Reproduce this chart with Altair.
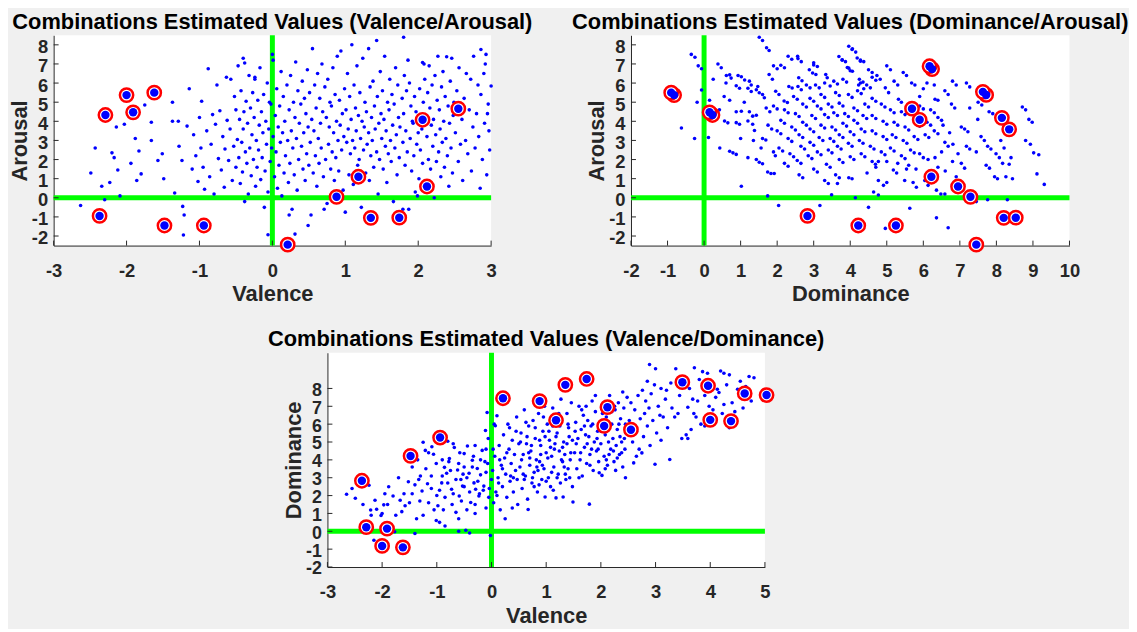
import altair as alt
import pandas as pd

# ---------------- base emotions (valence, arousal, dominance) ----------------
base_valence = [-2.37, -2.29, -2.00, -1.91, -1.62, -1.48, -0.94, 0.21, 0.88, 1.18, 1.35,
                1.74, 2.06, 2.12, 2.55, 3.49, 3.96, 4.00, 4.38, 4.63, 5.03]
base_arousal = [-0.95, 4.33, 5.37, 4.47, 5.50, -1.45, -1.45, -2.45, 0.05, 1.10, -1.05,
                -1.04, 4.08, 0.59, 4.66, 3.58, 4.18, 6.73, 6.88, 5.38, 5.54]
base_dominance = [2.83, 0.23, -0.82, 0.15, -0.90, 4.22, 5.25, 7.45, 7.29, 6.22, 8.20,
                  8.53, 5.90, 6.95, 5.69, 8.35, 8.15, 6.24, 6.17, 7.72, 7.63]

# ---------------- combination dots: (valence, arousal) ----------------
va_points = [
    (-2.63,-0.4),(-2.49,1.3),(-2.43,2.6),(-2.34,0.6),(-2.23,0.8),(-2.2,2.35),(-2.17,2.1),(-2.14,3.7),
    (-2.12,1.45),(-2.09,0.1),(-2.03,3.85),(-1.94,1.8),(-1.88,3.1),(-1.86,0.9),(-1.83,2.45),(-1.8,1.25),
    (-1.75,4.85),(-1.66,3.95),(-1.66,3.0),(-1.57,1.95),(-1.51,2.3),(-1.49,1.0),(-2.3,-0.1),
    (-1.37,5.0),(-1.37,4.0),(-1.34,0.25),(-1.29,4.0),(-1.28,2.7),(-1.24,1.95),(-1.23,-0.45),(-1.22,-1.95),
    (-1.21,-0.9),(-1.17,3.75),(-1.14,5.7),(-1.1,1.5),(-1.08,3.3),(-1.05,2.2),(-1.02,0.85),(-1.0,4.2),
    (-0.98,2.6),(-0.97,5.05),(-0.95,1.6),(-0.93,0.45),(-0.9,3.5),(-0.88,6.75),(-0.86,1.1),(-0.84,2.8),
    (-0.82,4.35),(-0.8,0.2),(-0.78,3.85),(-0.76,5.9),(-0.74,2.05),(-0.72,4.55),(-0.7,1.45),(-0.68,3.2),
    (-0.66,0.55),(-0.65,2.55),(-0.63,6.3),(-0.62,4.05),(-0.6,1.95),(-0.58,3.6),(-0.57,6.2),(-0.55,0.9),
    (-0.53,2.7),(-0.52,5.3),(-0.5,4.6),(-0.5,1.6),
    (-0.48,3.05),(-0.47,6.9),(-0.46,2.1),(-0.45,4.1),(-0.44,0.75),(-0.43,5.6),(-0.42,2.9),(-0.41,1.35),
    (-0.4,7.3),(-0.4,3.6),(-0.39,4.5),(-0.38,-0.2),(-0.37,2.4),(-0.36,5.05),(-0.35,1.8),(-0.34,3.9),
    (-0.33,0.2),(-0.32,6.4),(-0.31,2.6),(-0.3,4.7),(-0.29,1.15),(-0.28,3.3),(-0.27,5.5),(-0.26,2.0),
    (-0.25,4.2),(-0.24,6.3),(-0.23,0.6),(-0.22,3.0),(-0.21,1.6),(-0.2,5.1),(-0.19,2.5),(-0.18,3.8),
    (-0.17,6.8),(-0.16,0.95),(-0.15,4.5),(-0.14,2.1),(-0.13,3.4),(-0.12,5.4),(-0.11,-0.5),(-0.1,1.4),
    (-0.09,4.0),(-0.08,2.8),(-0.07,6.0),(-0.06,0.3),(-0.05,3.6),(-0.04,5.0),(-0.03,1.9),(-0.02,4.9),
    (-0.01,2.6),(0.0,7.5),(0.01,3.2),(-0.06,-1.93),(0.03,1.1),(0.04,4.3),(0.05,2.4),(0.06,5.7),
    (0.07,0.5),(0.08,3.7),(0.09,1.7),(0.1,4.8),(0.11,2.9),(0.12,6.6),(0.13,0.1),(0.14,3.4),
    (0.15,5.3),(0.16,1.3),(0.17,4.0),(0.18,2.2),(0.23,-0.9),(0.2,5.9),(0.21,3.0),(0.22,0.8),
    (0.23,4.6),(0.24,1.8),(0.25,6.4),(0.26,3.5),(0.27,-0.6),(0.28,2.6),(0.29,5.0),(0.3,1.2),
    (0.31,4.2),(0.32,7.1),(0.33,3.1),(0.34,0.4),(0.35,5.6),(0.36,2.0),(0.37,3.9),(0.31,-1.9),
    (0.39,4.9),(0.4,2.7),(0.41,6.1),(0.42,1.5),(0.43,3.4),(0.44,5.2),(0.45,0.9),(0.46,4.4),
    (0.47,2.3),(0.48,6.7),(0.49,3.7),(0.5,1.7),(0.49,-1.45),(0.01,7.2),(-0.38,7.05),(-0.24,6.2),
    (0.51,5.5),(0.52,2.9),(0.53,-0.9),(0.54,4.1),(0.55,7.8),(0.56,1.3),(0.57,3.5),(0.58,5.9),
    (0.59,2.2),(0.6,4.7),(0.61,0.6),(0.62,6.5),(0.63,3.1),(0.64,1.8),(0.65,5.2),(0.66,3.9),
    (0.67,2.6),(0.68,7.0),(0.69,4.5),(0.7,1.1),(0.71,-0.6),(0.72,5.8),(0.73,2.0),(0.74,4.2),
    (0.75,-0.3),(0.76,6.2),(0.77,2.8),(0.78,3.7),(0.79,5.0),(0.8,1.5),(0.81,4.8),(0.82,2.4),
    (0.83,6.8),(0.84,3.4),(0.85,0.9),(0.86,5.4),(0.87,2.1),(0.88,4.0),(0.89,7.4),(0.9,3.0),
    (0.91,1.4),(0.92,5.1),(0.93,3.8),(0.94,7.68),(0.95,2.5),(0.96,4.4),(0.97,0.4),(0.98,3.2),
    (0.99,5.7),(1.0,-0.75),(1.01,4.6),(1.02,2.9),(1.03,6.5),(1.04,3.6),(1.05,1.2),(1.06,5.3),
    (1.07,2.3),(1.08,4.1),(1.09,8.0),(1.1,3.0),(1.11,0.7),(1.12,5.9),(1.13,2.6),(1.14,4.7),
    (1.15,3.5),(1.16,6.9),(1.17,1.7),(1.18,4.3),(1.19,2.0),(1.2,5.5),(1.21,3.1),(1.22,-0.5),
    (1.23,4.0),(1.24,7.3),(1.25,2.5),(1.26,3.7),(1.27,5.0),(1.28,1.3),(1.29,4.5),(1.3,2.8),
    (1.32,7.8),(1.32,3.4),(1.33,0.9),(1.34,5.8),(1.35,2.2),(1.36,4.2),(1.37,3.0),(1.38,6.1),
    (1.39,1.6),(1.4,4.8),(1.41,3.6),(1.43,8.23),(1.43,2.4),(1.44,5.3),(1.45,0.2),(1.46,3.9),
    (1.47,2.0),(1.48,6.6),(1.49,4.4),
    (1.5,3.1),(1.51,5.6),(1.52,1.5),(1.53,4.1),(1.54,7.4),(1.55,2.7),(1.56,3.5),(1.57,0.8),
    (1.58,5.0),(1.59,2.3),(1.6,4.6),(1.61,6.2),(1.62,3.0),(1.63,1.9),(1.64,5.4),(1.65,3.8),
    (1.66,-0.2),(1.67,4.9),(1.68,2.6),(1.69,6.8),(1.7,3.3),(1.71,1.2),(1.72,5.9),(1.73,4.2),
    (1.74,2.1),(1.75,3.7),(1.8,8.4),(1.79,-0.6),(1.78,5.2),(1.79,2.9),(1.8,4.4),(1.81,6.4),
    (1.82,1.7),(1.83,3.5),(1.84,5.6),(1.85,2.4),(1.86,7.2),(1.87,-0.6),(1.88,6.0),(1.89,3.1),
    (1.9,4.8),(1.91,1.4),(1.92,4.0),(1.93,3.9),(1.94,2.2),(1.95,5.3),(1.96,0.3),(1.97,4.5),
    (1.98,2.8),(1.99,0.1),(2.0,3.4),(2.01,1.0),(2.02,5.7),(2.03,2.5),(2.06,7.08),(2.05,3.6),
    (2.06,1.8),(2.07,5.0),(2.08,7.0),(2.09,6.2),(2.1,4.3),(2.11,0.7),(2.12,3.2),(2.13,5.5),
    (2.14,2.0),(2.15,6.9),(2.16,4.7),(2.17,1.5),(2.18,3.8),(2.19,5.9),(2.2,2.7),(2.21,4.1),
    (2.22,0.0),(2.23,6.4),(2.24,3.3),(2.25,1.9),(2.26,5.1),(2.27,7.4),(2.28,2.4),(2.29,4.6),
    (2.3,3.6),(2.31,1.1),(2.32,5.8),(2.33,2.9),(2.34,6.6),(2.35,4.0),(2.36,1.6),(2.37,5.3),
    (2.39,7.38),(2.38,3.1),(2.4,2.2),(2.41,4.8),(2.42,0.6),(2.43,3.9),(2.44,6.1),(2.45,2.6),
    (2.46,7.3),(2.47,1.3),(2.48,4.3),(2.49,5.0),
    (2.51,3.4),(2.53,5.6),(2.55,1.9),(2.56,6.8),(2.58,2.8),(2.6,4.1),(2.61,0.9),(2.63,5.2),
    (2.65,3.0),(2.66,6.5),(2.68,2.3),(2.7,4.6),(2.72,6.2),(2.73,1.4),(2.75,3.7),(2.76,7.4),
    (2.78,2.6),(2.8,4.4),(2.82,5.9),(2.83,3.2),(2.85,0.5),(2.86,7.76),(2.86,5.4),(2.88,2.0),
    (2.9,6.5),(2.91,3.9),(2.93,7.5),(2.92,7.0),(2.94,1.2),(2.96,4.9),(2.97,3.5),(3.0,5.85),
    (2.98,2.5),(2.95,4.4),
]

# ---------------- combination dots: (dominance, arousal) ----------------
da_points = [
    (-0.35,7.5),(-0.25,7.35),(-0.16,6.9),(-0.07,6.75),(0.38,7.0),(0.47,6.8),(0.61,6.4),(0.7,6.43),
    (0.74,6.26),(0.93,6.4),(1.02,6.33),(1.11,6.16),(1.24,6.1),(1.29,5.9),(0.88,5.86),(0.97,5.73),
    (1.2,5.73),(1.29,5.56),(1.43,5.65),(1.51,5.49),(1.47,5.82),(1.6,5.4),(1.65,5.23),(0.7,5.1),
    (0.88,4.5),(1.02,4.53),(1.24,4.5),(1.33,4.27),(1.43,4.32),(1.2,4.02),(1.33,3.85),(1.38,3.52),
    (0.56,4.02),(0.65,3.92),(0.88,3.93),(0.97,3.85),(1.6,3.1),(1.69,3.02),(1.56,2.6),(0.43,2.6),
    (0.7,2.43),(0.79,2.35),(0.88,2.27),(1.2,2.1),(1.43,2.0),(1.51,1.86),(1.6,1.78),(1.74,1.35),
    (1.83,1.27),(1.92,1.27),(1.02,0.6),(1.74,0.1),(2.04,-0.4),(3.17,-0.4),(3.49,0.16),(-0.26,3.1),
    (1.51,8.4),(1.6,8.23),(1.71,7.85),(1.78,7.7),(-0.62,3.65),(-0.07,5.64),(-0.19,5.0),(0.12,3.15),
    (0.42,4.6),(0.15,5.1),(0.55,5.3),(1.1,5.0),(1.7,4.7),(1.8,4.5),(1.75,3.8),(1.85,3.6),
    (1.35,3.0),(1.0,3.1),(1.9,2.4),(1.95,2.2),(0.6,6.0),(0.25,6.2),(1.9,6.9),(2.0,6.75),
    (2.1,6.93),(2.2,6.8),(2.57,7.28),(2.66,7.12),(3.0,6.95),(3.1,6.87),(2.88,6.7),(2.97,6.53),
    (3.06,6.45),(3.33,6.45),(3.37,6.28),(3.78,7.2),(3.87,7.12),(4.06,7.79),(4.15,7.62),(4.28,7.2),
    (4.37,7.12),(3.96,6.78),(4.06,6.62),(1.78,6.45),(1.87,6.2),(1.96,5.57),(2.05,5.4),(2.19,5.06),
    (2.28,4.98),(2.32,5.82),(2.41,5.74),(2.59,6.28),(2.68,6.12),(2.57,5.82),(2.66,5.65),
    (2.8,5.9),(2.9,5.75),(3.05,5.9),(3.15,5.75),(3.3,6.0),(3.45,5.85),(3.55,6.1),(3.65,5.95),
    (3.8,6.2),(3.9,6.05),(3.6,5.5),(3.7,5.35),(3.2,5.4),(3.3,5.25),(2.9,5.2),(3.0,5.05),
    (2.45,5.3),(2.55,5.15),(2.7,4.9),(2.8,4.75),(2.2,4.6),(2.3,4.45),(1.9,4.8),(2.0,4.65),
    (2.5,4.4),(2.6,4.25),(3.1,4.8),(3.2,4.65),(3.4,4.9),(3.5,4.75),(3.7,4.95),(3.8,4.8),
    (3.95,5.4),(4.05,5.25),(4.2,5.6),(4.3,5.45),(4.45,5.9),(4.55,5.75),(4.6,6.3),(4.7,6.15),
    (4.25,6.2),(4.35,6.05),(2.1,4.05),(2.2,3.9),(2.4,3.7),(2.5,3.55),(2.7,3.95),(2.8,3.8),
    (2.95,4.3),(3.05,4.15),(3.3,4.35),(3.4,4.2),(3.55,4.45),(3.65,4.3),(3.85,4.4),(3.95,4.25),
    (4.1,4.7),(4.2,4.55),(4.4,4.9),(4.5,4.75),(2.0,3.5),(2.1,3.35),(2.3,3.1),(2.4,2.95),
    (2.6,3.3),(2.7,3.15),(2.9,3.6),(3.0,3.45),(3.2,3.8),(3.3,3.65),(3.5,3.7),(3.6,3.55),
    (3.8,3.9),(3.9,3.75),(4.1,4.05),(4.2,3.9),(4.35,4.3),(4.45,4.15),(2.05,2.6),(2.15,2.45),
    (2.35,2.3),(2.45,2.15),(2.65,2.7),(2.75,2.55),(2.9,2.9),(3.0,2.75),(3.15,3.15),(3.25,3.0),
    (3.45,3.1),(3.55,2.95),(3.7,3.3),(3.8,3.15),(4.0,3.45),(4.1,3.3),(4.3,3.6),(4.4,3.45),
    (2.2,1.8),(2.3,1.65),(2.55,1.95),(2.65,1.8),(2.85,2.2),(2.95,2.05),(3.1,2.4),(3.2,2.25),
    (3.4,2.5),(3.5,2.35),(3.65,2.7),(3.75,2.55),(3.95,2.85),(4.05,2.7),(4.25,3.0),(4.35,2.85),
    (2.6,1.2),(2.7,1.05),(3.0,1.5),(3.1,1.35),(3.35,1.75),(3.45,1.6),(3.7,2.0),(3.8,1.85),
    (4.0,2.15),(4.1,2.0),(4.3,2.3),(4.4,2.15),(3.3,0.9),(3.4,0.75),(3.6,1.2),(3.7,1.05),
    (3.96,1.05),(4.05,1.0),(3.65,0.75),(4.46,1.3),(4.69,1.75),(4.77,1.9),
    (3.96,7.93),(4.05,7.76),(3.69,7.39),(3.78,7.22),(4.19,7.31),(4.28,7.14),(3.92,6.81),(4.0,6.64),
    (4.73,6.4),(4.82,6.2),(5.0,6.9),(5.1,6.7),(5.45,6.55),(5.54,6.4),(5.68,6.0),(5.77,5.9),
    (4.28,6.0),(4.23,5.9),(4.37,5.7),(4.96,5.75),(5.05,5.5),(5.32,5.15),(5.4,5.0),(6.32,5.15),
    (6.4,5.1),(6.59,5.6),(6.68,5.4),(7.18,6.0),(7.27,5.8),(6.77,4.9),(6.86,4.7),(7.27,4.7),
    (7.49,4.1),(7.8,4.5),(7.9,4.4),(7.04,3.7),(7.13,3.6),(7.22,3.45),(7.58,3.2),(7.67,3.0),
    (7.76,2.7),(7.85,2.55),(8.12,3.0),(8.21,2.6),(7.99,2.3),(8.08,2.1),(8.4,2.1),(8.35,1.75),
    (7.72,1.7),(7.81,1.55),(7.95,1.1),(8.03,1.0),(8.26,1.1),(8.44,1.0),(8.71,4.75),(8.8,4.6),
    (8.89,4.1),(8.98,3.95),(8.8,3.0),(8.93,2.8),(9.02,2.35),(9.16,2.25),(9.11,1.25),(9.31,0.7),
    (8.17,1.8),(7.04,1.8),(7.13,1.55),(6.95,2.3),(7.45,2.4),(7.18,2.7),(7.27,2.55),(6.81,2.8),
    (6.72,3.4),(6.54,3.8),(6.59,2.9),(6.68,2.7),(5.9,2.3),(6.0,2.1),(6.13,2.0),(6.32,2.1),
    (6.04,0.9),(6.13,0.65),(6.36,0.4),(6.48,0.2),(6.59,0.2),(5.72,0.8),(5.81,0.55),(5.49,0.9),
    (4.77,0.9),(4.91,0.65),(5.0,0.8),(4.64,0.3),(4.77,0.15),(4.5,-0.5),(4.14,0.0),(4.96,-1.6),
    (5.63,-0.55),(6.36,-1.05),(6.68,-1.57),(7.45,-0.2),(7.76,-0.1),(8.3,-0.1),(5.18,1.45),(5.27,1.3),
    (5.54,1.5),(4.6,5.2),(4.7,5.05),(4.85,4.9),(4.95,4.75),(5.1,4.6),(5.2,4.45),(5.4,4.5),
    (5.5,4.35),(5.6,4.7),(5.7,4.55),(5.9,4.8),(6.0,4.65),(6.2,4.6),(6.3,4.45),(4.6,4.3),
    (4.7,4.15),(4.9,4.0),(5.0,3.85),(5.2,3.95),(5.3,3.8),(5.5,3.7),(5.6,3.55),(5.8,3.9),
    (5.9,3.75),(6.1,3.95),(6.2,3.8),(6.4,4.2),(6.5,4.05),(4.6,3.5),(4.7,3.35),(4.9,3.2),
    (5.0,3.05),(5.15,3.3),(5.25,3.15),(5.45,3.0),(5.55,2.85),(5.75,3.2),(5.85,3.05),(6.05,3.3),
    (6.15,3.15),(6.3,3.5),(6.4,3.35),(4.55,2.7),(4.65,2.55),(4.85,2.4),(4.95,2.25),(5.1,2.6),
    (5.2,2.45),(5.4,2.2),(5.5,2.05),(5.65,2.5),(5.75,2.35),(4.6,1.9),(4.7,1.6),(5.0,1.9),
    (5.3,1.8),(5.6,1.7),(5.8,1.5),(6.4,1.6),(6.6,1.4),(6.9,1.1),(6.5,2.4),(6.8,1.9),
    (5.9,5.3),(6.0,5.7),(6.1,6.0),(5.3,5.9),(5.2,6.1),(4.5,6.7),(4.6,6.55),(6.3,5.9),
    (6.8,6.1),(6.9,5.9),(7.5,5.0),(7.6,4.85),(2.56,7.4),(3.0,7.06),(2.3,7.4),(2.4,7.25),
]

# ---------------- combination dots: (valence, dominance) ----------------
vd_points = [
    (-2.65,2.07),(-2.49,1.85),(-2.24,2.58),(-2.21,1.19),(-2.13,1.74),(-2.1,1.23),(-2.02,0.88),(-1.97,1.48),
    (-1.88,2.49),(-1.8,1.98),(-1.77,-0.03),(-1.67,1.74),(-1.64,1.1),(-1.58,1.43),(-1.52,2.77),(-2.3,0.0),
    (-2.15,-0.5),(-1.85,0.3),(-1.9,1.5),(-2.0,1.0),(-2.2,0.9),(-1.75,0.9),(-1.6,2.1),(-2.35,1.5),
    (-2.55,2.4),(-1.95,2.1),(-1.7,3.0),
    (-1.4,-0.12),(-1.37,0.7),(-1.31,1.7),(-1.27,2.26),(-1.25,4.99),(-1.21,4.53),(-1.17,2.66),(-1.1,3.1),
    (-1.09,4.73),(-1.06,4.31),(-1.01,3.8),(-1.01,0.6),(-0.98,1.43),(-0.91,2.71),(-0.86,3.58),(-0.82,3.25),
    (-0.8,5.04),(-0.77,4.07),(-0.73,2.35),(-0.68,4.69),(-0.65,1.06),(-0.62,3.43),(-0.59,1.98),(-0.56,2.9),
    (-0.53,2.53),(-1.45,2.1),(-1.5,1.6),(-1.35,4.0),(-1.45,3.6),(-1.2,3.5),(-1.3,3.1),(-1.4,2.6),
    (-1.15,1.6),(-1.05,1.2),(-0.95,0.5),(-0.95,2.3),(-0.9,3.1),(-0.85,1.9),(-0.8,2.7),(-0.75,3.4),
    (-0.7,2.1),(-0.65,2.9),(-0.6,3.8),(-0.55,1.7),(-0.9,4.0),(-0.7,4.9),(-0.6,0.7),(-0.6,0.0),
    (-0.85,0.3),(-1.25,0.9),(-1.15,4.4),(-1.0,2.0),(-0.88,1.2),(-0.78,3.9),(-0.72,1.5),(-0.58,4.4),
    (-0.52,3.2),(-1.33,2.9),(-1.1,2.4),
    (-0.5,4.35),(-0.47,0.06),(-0.44,4.78),(-0.41,3.25),(-0.38,1.61),(-0.35,3.98),(-0.32,2.71),(-0.29,2.35),
    (-0.26,3.52),(-0.23,1.98),(-0.2,3.16),(-0.17,4.53),(-0.14,2.53),(-0.11,5.64),(-0.08,6.65),(-0.07,3.8),
    (-0.02,-0.24),(-0.5,2.5),(-0.45,3.0),(-0.4,2.2),(-0.35,3.6),(-0.3,1.5),(-0.25,2.8),(-0.2,4.0),
    (-0.15,2.3),(-0.1,3.3),(-0.05,1.9),(0.0,2.9),(-0.5,3.6),(-0.3,4.8),(-0.1,4.6),(-0.3,1.0),
    (-0.1,1.3),(-0.4,-0.1),(-0.45,1.2),(-0.33,4.2),(-0.22,2.1),(-0.12,3.9),(-0.04,2.4),(-0.06,5.2),
    (0.02,3.4),(0.04,1.6),(0.06,4.2),(0.08,2.2),(0.1,6.47),(0.07,5.91),(0.12,3.0),(0.14,4.8),
    (0.16,1.2),(0.18,3.7),(0.2,2.5),(0.22,5.4),(0.24,4.1),(0.26,3.2),(0.28,1.9),(0.3,6.0),
    (0.32,4.6),(0.34,2.8),(0.36,3.8),(0.38,5.1),(0.4,2.2),(0.42,4.3),(0.44,3.4),(0.46,6.4),
    (0.48,1.5),(0.5,4.9),(0.13,2.7),(0.25,0.7),(0.35,3.1),(0.45,5.6),(0.05,6.0),(0.15,4.0),
    (0.28,4.4),(0.4,3.0),(0.1,2.0),(0.2,3.5),(0.33,5.8),(0.47,2.9),(0.03,4.6),(0.38,1.3),
    (0.52,3.6),(0.54,5.5),(0.56,2.4),(0.58,4.3),(0.6,6.8),(0.62,3.1),(0.64,4.9),(0.66,1.8),
    (0.67,1.22),(0.68,5.9),(0.7,3.7),(0.72,4.5),(0.74,2.7),(0.76,6.2),(0.78,3.3),(0.8,5.2),
    (0.82,4.0),(0.84,2.2),(0.86,6.6),(0.88,3.9),(0.9,4.8),(0.92,2.9),(0.94,5.6),(0.96,3.5),
    (0.98,1.92),(1.0,4.4),(1.02,6.0),(1.04,3.0),(1.06,5.1),(1.08,2.5),(1.1,4.2),(1.12,6.9),
    (1.14,3.6),(1.16,4.9),(1.18,1.87),(1.2,5.5),(1.22,3.2),(1.24,4.5),(1.26,2.7),(1.28,6.3),
    (1.3,3.9),(1.31,1.92),(1.32,5.0),(1.34,4.3),(1.36,2.9),(1.38,6.6),(1.4,3.5),(1.42,5.3),
    (1.44,4.0),(1.46,7.2),(1.48,2.5),(1.49,1.64),(0.55,4.0),(0.6,2.9),(0.65,5.3),(0.7,4.1),
    (0.75,3.0),(0.8,5.8),(0.85,3.4),(0.9,4.3),(0.95,6.4),(1.0,2.8),(1.05,5.6),(1.1,3.3),
    (1.15,4.6),(1.2,3.0),(1.25,5.9),(1.3,4.7),(1.35,3.2),(1.4,6.0),(1.45,4.4),(0.58,3.2),
    (0.73,4.8),(0.88,5.1),(1.03,4.1),(1.18,5.3),(1.33,3.6),(1.48,5.1),(0.63,6.1),(0.78,2.5),
    (0.93,3.7),(1.08,4.7),(1.23,6.6),(1.38,4.9),(0.68,4.4),(0.83,3.6),(0.98,5.3),(1.13,2.3),
    (1.28,4.0),(1.43,3.0),(0.53,5.0),(0.97,7.0),(1.27,7.4),(1.12,5.9),(0.87,2.6),(1.41,5.8),
    (1.52,4.4),(1.54,6.1),(1.56,3.5),(1.58,5.2),(1.6,7.0),(1.62,4.0),(1.64,5.7),(1.66,3.1),
    (1.68,6.5),(1.7,4.7),(1.72,5.4),(1.74,3.8),(1.76,6.2),(1.79,1.52),(1.8,4.3),(1.82,5.9),
    (1.84,7.3),(1.86,3.4),(1.88,5.0),(1.9,6.7),(1.92,4.5),(1.94,5.6),(1.96,3.9),(1.97,3.28),
    (1.98,6.1),(2.0,4.9),(2.02,3.13),(2.04,7.1),(2.06,4.2),(2.08,5.4),(2.1,6.4),(2.12,3.7),
    (2.14,5.0),(2.16,7.6),(2.18,4.6),(2.2,6.0),(2.22,5.2),(2.24,3.9),(2.26,6.8),(2.27,3.41),
    (2.28,4.8),(2.3,5.7),(2.32,7.2),(2.34,4.3),(2.36,6.3),(2.38,5.0),(2.4,3.6),(2.42,6.9),
    (2.44,4.6),(2.45,3.0),(2.46,5.5),(2.48,7.5),(1.55,4.9),(1.65,6.8),(1.75,4.9),(1.85,6.0),
    (1.95,4.6),(2.05,5.8),(2.15,4.3),(2.25,7.0),(2.35,5.3),(2.45,6.0),(1.6,3.0),(1.7,5.9),
    (1.8,3.7),(1.9,7.6),(2.0,5.6),(2.1,4.0),(2.2,6.7),(2.3,4.1),(2.4,7.8),(1.53,5.6),
    (1.63,4.4),(1.73,7.0),(1.83,4.6),(1.93,5.2),(2.03,6.6),(2.13,5.7),(2.23,4.5),(2.33,6.0),
    (2.43,5.2),(1.78,5.3),(2.08,3.5),(2.38,4.4),
    (2.52,6.2),(2.55,7.2),(2.58,5.0),(2.6,3.83),(2.62,6.8),(2.65,5.6),(2.68,7.6),(2.7,4.6),
    (2.72,6.3),(2.75,4.39),(2.76,7.9),(2.78,5.3),(2.8,6.6),(2.82,7.3),(2.85,5.9),(2.88,6.9),
    (2.89,9.34),(2.9,4.8),(2.92,7.7),(2.95,6.2),(2.98,8.2),(2.99,3.75),(3.0,9.1),(3.02,5.5),
    (3.05,7.0),(3.08,6.5),(3.1,8.0),(3.14,6.4),(3.18,7.4),(3.22,5.8),(3.26,4.02),(3.28,8.3),
    (3.3,6.9),(3.35,6.4),(3.37,9.1),(3.41,6.6),(3.44,7.6),(3.48,5.2),(3.2,7.9),(3.1,5.1),
    (2.65,4.2),(2.85,8.4),
    (3.56,5.4),(3.59,5.2),(3.59,6.95),(3.62,8.0),(3.65,5.7),(3.68,7.4),(3.71,9.16),(3.74,6.4),
    (3.77,7.3),(3.8,8.5),(3.83,6.0),(3.86,8.94),(3.9,7.6),(3.95,8.85),(3.98,7.0),(4.05,6.8),
    (4.1,7.5),(4.13,7.95),(4.16,7.77),(4.19,8.98),(4.22,6.6),(4.25,7.1),(4.25,8.85),(4.3,8.2),
    (4.35,8.76),(4.4,7.2),(4.45,6.7),(4.5,7.95),(4.55,8.4),(4.6,6.9),(4.65,8.1),(4.71,8.67),
    (4.75,7.3),(4.8,8.6),(3.7,6.6),(3.9,5.9),(4.0,7.9),(4.35,5.8),
]

# ---------------- axes ticks / domains / titles ----------------
va_x_ticks = [-3, -2, -1, 0, 1, 2, 3]
da_x_ticks = [-2, -1, 0, 1, 2, 3, 4, 5, 6, 7, 8, 9, 10]
vd_x_ticks = [-3, -2, -1, 0, 1, 2, 3, 4, 5]
a_y_ticks = [-2, -1, 0, 1, 2, 3, 4, 5, 6, 7, 8]
d_y_ticks = [-2, -1, 0, 1, 2, 3, 4, 5, 6, 7, 8]

FONT = "Liberation Sans"
AX = "#262626"
BLUE = "#0000FF"
RED = "#FF0000"
GREEN = "#00FF00"


def make_axis(values, title, is_x, label_size=18.5):
    return alt.Axis(
        values=values, title=title, ticks=False, tickSize=0, grid=False,
        domainColor=AX, domainWidth=1,
        labelFont=FONT, labelFontSize=label_size, labelFontWeight="bold", labelColor=AX,
        labelPadding=16 if is_x else 6, labelFlush=False, labelOverlap=False,
        labelOffset=0 if is_x else 2,
        labelExpr="'' + datum.value",
        titleFont=FONT, titleFontSize=22, titleFontWeight="bold", titleColor=AX,
        titlePadding=4 if is_x else 0,
    )


def make_panel(points, bx, by, xdom, ydom, xticks, yticks, xtitle, ytitle, title, w, h, ylab=18.5):
    dots_df = pd.DataFrame(points, columns=["x", "y"])
    bdf = pd.DataFrame({"x": bx, "y": by})
    bdf = bdf[(bdf.x >= xdom[0] - 0.05) & (bdf.x <= xdom[1] + 0.05) &
              (bdf.y >= ydom[0] - 0.05) & (bdf.y <= ydom[1] + 0.05)]
    xs = alt.Scale(domain=xdom, nice=False, zero=False)
    ys = alt.Scale(domain=ydom, nice=False, zero=False)
    xa = make_axis(xticks, xtitle, True)
    ya = make_axis(yticks, ytitle, False, ylab)

    zero_df = pd.DataFrame({"z": [0.0]})
    vline = alt.Chart(zero_df).mark_rule(color=GREEN, strokeWidth=5).encode(
        x=alt.X("z:Q", scale=xs, axis=xa))
    hline = alt.Chart(zero_df).mark_rule(color=GREEN, strokeWidth=5).encode(
        y=alt.Y("z:Q", scale=ys, axis=ya))
    xt = alt.Chart(pd.DataFrame({"t": xticks})).mark_rule(color=AX, strokeWidth=1).encode(
        x=alt.X("t:Q", scale=xs, axis=xa), y=alt.value(h), y2=alt.value(h - 5))
    yt = alt.Chart(pd.DataFrame({"t": yticks})).mark_rule(color=AX, strokeWidth=1).encode(
        y=alt.Y("t:Q", scale=ys, axis=ya), x=alt.value(0), x2=alt.value(5))
    dots = alt.Chart(dots_df).mark_circle(size=13, color=BLUE, opacity=1).encode(
        x=alt.X("x:Q", scale=xs, axis=xa), y=alt.Y("y:Q", scale=ys, axis=ya))
    rings = alt.Chart(bdf).mark_circle(size=180, fill="white", fillOpacity=1, stroke=RED,
                                       strokeWidth=2.5, opacity=1).encode(
        x=alt.X("x:Q", scale=xs, axis=xa), y=alt.Y("y:Q", scale=ys, axis=ya))
    centers = alt.Chart(bdf).mark_circle(size=72, color=BLUE, opacity=1).encode(
        x=alt.X("x:Q", scale=xs, axis=xa), y=alt.Y("y:Q", scale=ys, axis=ya))
    return alt.layer(vline, hline, xt, yt, dots, rings, centers).properties(
        width=w, height=h,
        title=alt.Title(title, font=FONT, fontSize=22, fontWeight="bold", color="black", offset=-1),
        view=alt.ViewBackground(fill="white", stroke=None),
    )


p1 = make_panel(va_points, base_valence, base_arousal, [-3, 3], [-2.5, 8.5], va_x_ticks, a_y_ticks,
                "Valence", "Arousal", "Combinations Estimated Values (Valence/Arousal)", 441, 212)
p2 = make_panel(da_points, base_dominance, base_arousal, [-2, 10], [-2.5, 8.5], da_x_ticks, a_y_ticks,
                "Dominance", "Arousal", "Combinations Estimated Values (Dominance/Arousal)", 442, 212)
p3 = make_panel(vd_points, base_valence, base_dominance, [-3, 5], [-2, 10], vd_x_ticks, d_y_ticks,
                "Valence", "Dominance", "Combinations Estimated Values (Valence/Dominance)", 441, 216,
                ylab=18)

spacer = alt.Chart(pd.DataFrame({"s": [0]})).mark_point(opacity=0).encode(
    x=alt.X("s:Q", axis=None), y=alt.Y("s:Q", axis=None)
).properties(width=135, height=216, view=alt.ViewBackground(fill=None, stroke=None))

top = alt.hconcat(p1, p2, spacing=141, bounds="flush")
bottom = alt.hconcat(spacer, p3, spacing=141, bounds="flush")
chart = alt.vconcat(top, bottom, spacing=320, bounds="flush").properties(
    background="#F0F0F0", padding=0
).configure_view(stroke=None)

chart.save("out.html", embed_options={"renderer": "svg", "actions": False})
